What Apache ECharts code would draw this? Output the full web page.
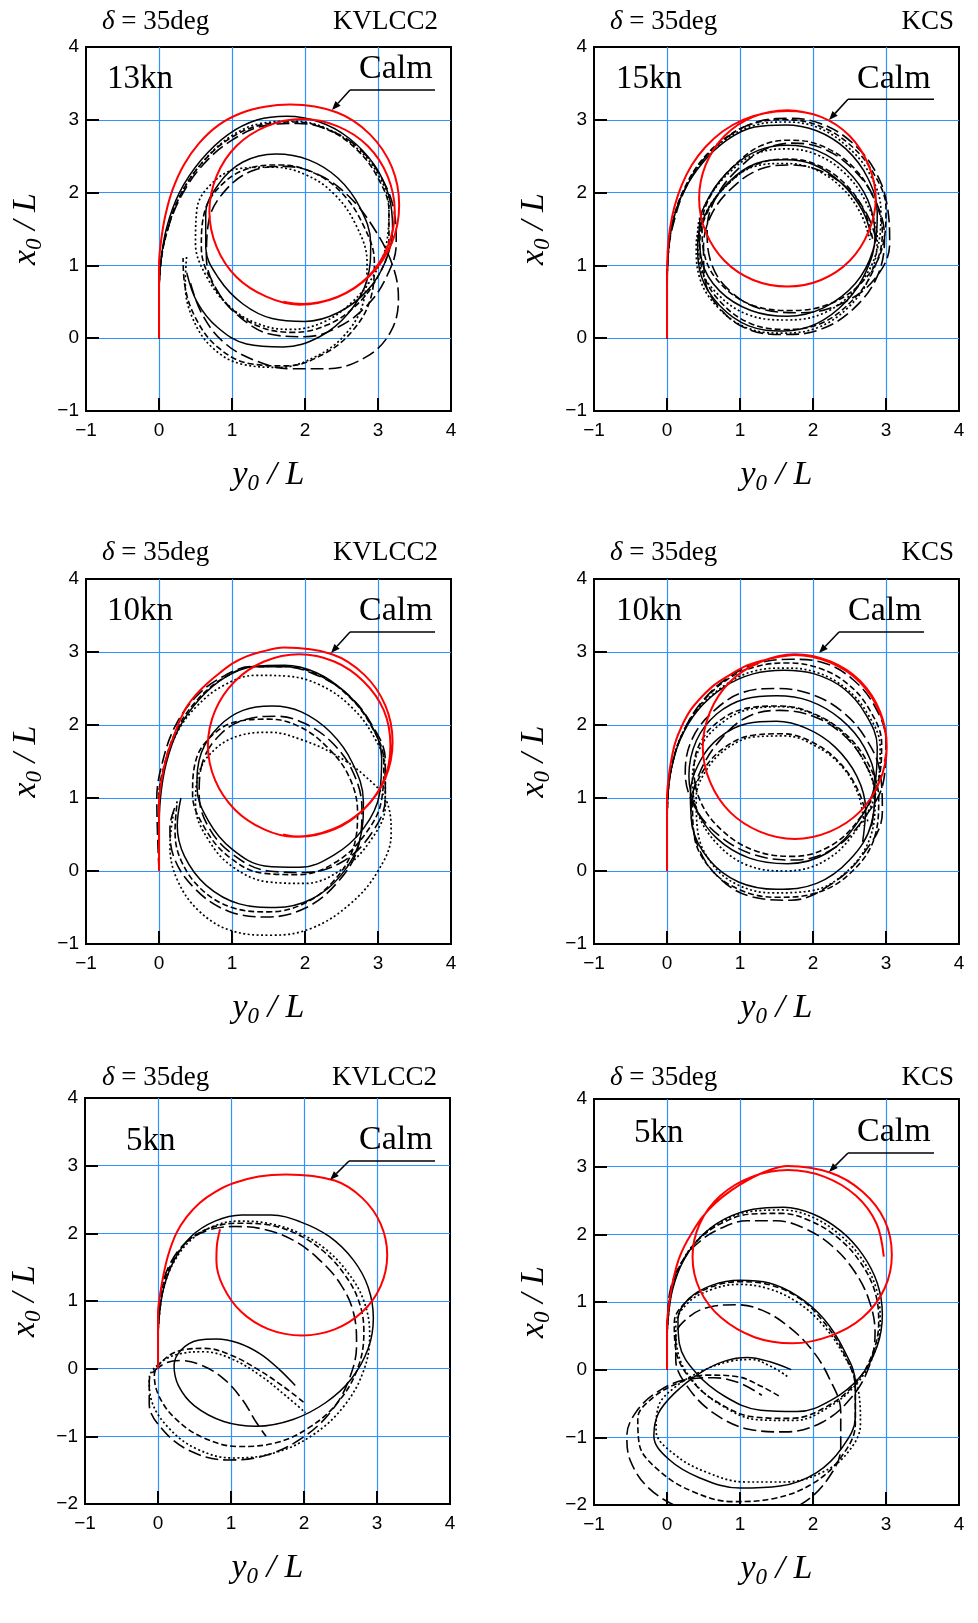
<!DOCTYPE html>
<html><head><meta charset="utf-8">
<script src="https://cdn.jsdelivr.net/npm/echarts@6/dist/echarts.min.js"></script>
<style>html,body{margin:0;padding:0;background:#fff}#c{width:978px;height:1623px}</style>
</head><body><div id="c"></div>
<script>
// ---------- tick values ----------
const xTicks = [-1, 0, 1, 2, 3, 4];
const yTicksTop = [-1, 0, 1, 2, 3, 4];
const yTicksBottom = [-2, -1, 0, 1, 2, 3, 4];
const shipNames = ['KVLCC2', 'KCS', 'KVLCC2', 'KCS', 'KVLCC2', 'KCS'];
const speeds = ['13kn', '15kn', '10kn', '10kn', '5kn', '5kn'];
const rudderTitle = '35deg';

// ---------- data: [y0/L, x0/L] ----------
// Panel 1 KVLCC2 13kn
const p1Calm = [[0,0],[0,0.5],[0,1.0],[0.03,1.35],[0.09,1.7],[0.19,2.05],[0.34,2.38],[0.55,2.68],[0.82,2.93],[1.12,3.09],[1.45,3.18],[1.8,3.21],[2.44,3.1],[2.89,2.8],[3.19,2.35],[3.29,1.83],[3.19,1.31],[2.89,0.86],[2.44,0.56],[1.92,0.46],[1.47,0.57],[1.06,0.84],[0.79,1.25],[0.69,1.74],[0.79,2.23],[1.06,2.64],[1.47,2.91],[1.96,3.01],[2.45,2.91],[2.86,2.64],[3.13,2.23],[3.23,1.74],[3.13,1.25],[2.86,0.84],[2.45,0.57],[1.96,0.47],[1.7,0.5]];
const p1Solid = [[0,0],[0,0.5],[0.02,1.0],[0.1,1.5],[0.28,2.0],[0.58,2.45],[0.95,2.8],[1.35,3.0],[1.75,3.05],[2.2,2.97],[2.6,2.75],[2.95,2.38],[3.15,1.95],[3.2,1.5],[3.1,1.05],[2.85,0.65],[2.45,0.35],[2.0,0.23],[1.55,0.27],[1.15,0.47],[0.82,0.82],[0.64,1.25],[0.64,1.7],[0.82,2.12],[1.15,2.42],[1.6,2.53],[2.05,2.45],[2.45,2.2],[2.75,1.8],[2.9,1.3],[2.85,0.8],[2.6,0.35],[2.2,0.02],[1.7,-0.12],[1.2,-0.08],[0.8,0.15],[0.52,0.5],[0.38,0.9]];
const p1Dash = [[0,0],[0,0.5],[0.02,1.0],[0.12,1.5],[0.3,1.98],[0.6,2.42],[0.98,2.75],[1.4,2.93],[1.85,2.97],[2.3,2.87],[2.7,2.6],[3.0,2.2],[3.15,1.75],[3.15,1.3],[3.0,0.85],[2.7,0.45],[2.3,0.18],[1.85,0.08],[1.4,0.15],[1.0,0.4],[0.72,0.78],[0.58,1.25],[0.62,1.72],[0.85,2.1],[1.22,2.33],[1.65,2.38],[2.1,2.28],[2.5,2.0],[2.8,1.55],[2.95,1.05],[2.9,0.55],[2.65,0.1],[2.25,-0.22],[1.75,-0.38],[1.25,-0.35],[0.8,-0.12],[0.5,0.28],[0.35,0.75],[0.33,1.1]];
const p1Long = [[0,0],[0,0.5],[0.02,1.0],[0.12,1.5],[0.32,1.98],[0.62,2.4],[1.0,2.72],[1.45,2.92],[1.9,2.95],[2.35,2.85],[2.75,2.6],[3.05,2.2],[3.22,1.75],[3.25,1.3],[3.12,0.85],[2.85,0.45],[2.45,0.15],[2.0,0.02],[1.55,0.05],[1.12,0.28],[0.8,0.65],[0.65,1.1],[0.68,1.6],[0.9,2.02],[1.28,2.3],[1.72,2.36],[2.18,2.25],[2.6,1.95],[2.95,1.5],[3.2,1.0],[3.28,0.55],[3.18,0.1],[2.85,-0.25],[2.3,-0.42],[1.8,-0.42],[1.3,-0.3],[0.88,-0.05],[0.58,0.35],[0.42,0.8]];
const p1Dot = [[0,0],[0,0.5],[0.02,1.0],[0.12,1.5],[0.3,1.98],[0.6,2.42],[0.98,2.77],[1.4,2.95],[1.85,2.98],[2.3,2.88],[2.7,2.62],[3.0,2.25],[3.15,1.8],[3.12,1.32],[2.95,0.88],[2.65,0.5],[2.25,0.22],[1.8,0.12],[1.35,0.2],[0.95,0.45],[0.65,0.85],[0.5,1.3],[0.52,1.78],[0.75,2.15],[1.1,2.33],[1.55,2.35],[2.0,2.25],[2.4,1.98],[2.7,1.55],[2.85,1.05],[2.8,0.5],[2.55,0.05],[2.15,-0.25],[1.65,-0.4],[1.15,-0.36],[0.72,-0.12],[0.45,0.3],[0.36,0.75],[0.38,1.15]];

// Panel 2 KCS 15kn
const p2Calm = [[0,0],[0,0.6],[0.01,1.2],[0.04,1.5],[0.1,1.8],[0.2,2.1],[0.34,2.38],[0.52,2.62],[0.76,2.84],[1.04,3.0],[1.34,3.09],[1.65,3.12],[2.11,3.04],[2.5,2.78],[2.76,2.38],[2.86,1.92],[2.76,1.46],[2.5,1.06],[2.11,0.8],[1.65,0.71],[1.18,0.8],[0.79,1.06],[0.53,1.46],[0.44,1.92],[0.53,2.38],[0.79,2.78],[1.18,3.04],[1.65,3.13],[1.9,3.1]];
const p2Solid = [[0,0],[0,0.6],[0.02,1.2],[0.08,1.6],[0.22,2.0],[0.48,2.4],[0.82,2.72],[1.2,2.9],[1.62,2.93],[2.05,2.85],[2.45,2.6],[2.75,2.2],[2.88,1.72],[2.82,1.2],[2.58,0.75],[2.15,0.42],[1.65,0.3],[1.15,0.38],[0.72,0.65],[0.48,1.05],[0.44,1.5],[0.58,1.95],[0.9,2.35],[1.25,2.58],[1.65,2.65],[2.05,2.58],[2.45,2.32],[2.75,1.9],[2.85,1.4],[2.72,0.9],[2.45,0.5],[2.05,0.2],[1.6,0.1],[1.12,0.17],[0.72,0.45],[0.47,0.85],[0.42,1.3],[0.55,1.75],[0.85,2.15],[1.22,2.4],[1.62,2.45],[2.02,2.38],[2.4,2.12],[2.68,1.75],[2.8,1.4]];
const p2Dash = [[0,0],[0,0.6],[0.02,1.2],[0.08,1.6],[0.22,2.02],[0.48,2.45],[0.84,2.78],[1.22,2.96],[1.62,3.0],[2.05,2.93],[2.48,2.68],[2.82,2.28],[3.0,1.78],[2.95,1.25],[2.7,0.8],[2.25,0.48],[1.7,0.38],[1.18,0.45],[0.76,0.72],[0.52,1.12],[0.48,1.55],[0.62,2.0],[0.95,2.4],[1.3,2.65],[1.68,2.72],[2.1,2.65],[2.52,2.38],[2.82,1.95],[2.95,1.45],[2.82,0.92],[2.52,0.5],[2.1,0.2],[1.62,0.12],[1.15,0.2],[0.75,0.48],[0.5,0.88],[0.45,1.33],[0.58,1.78],[0.9,2.18],[1.26,2.4],[1.66,2.46],[2.06,2.38],[2.44,2.12],[2.7,1.75],[2.82,1.35]];
const p2Long = [[0,0],[0,0.6],[0.02,1.2],[0.1,1.62],[0.25,2.05],[0.52,2.48],[0.88,2.8],[1.26,2.98],[1.66,3.02],[2.1,2.95],[2.52,2.7],[2.85,2.3],[3.02,1.8],[3.05,1.3],[2.85,0.82],[2.4,0.48],[1.85,0.35],[1.3,0.4],[0.85,0.66],[0.6,1.05],[0.55,1.5],[0.68,1.95],[1.0,2.35],[1.35,2.6],[1.72,2.68],[2.15,2.6],[2.55,2.32],[2.85,1.9],[2.98,1.38],[2.88,0.85],[2.55,0.4],[2.1,0.12],[1.6,0.05],[1.12,0.12],[0.75,0.38],[0.52,0.8],[0.5,1.25],[0.62,1.72],[0.93,2.1],[1.3,2.33],[1.7,2.38],[2.1,2.3],[2.48,2.05],[2.75,1.68],[2.88,1.3]];
const p2Dot = [[0,0],[0,0.6],[0.02,1.2],[0.08,1.6],[0.22,2.0],[0.47,2.42],[0.83,2.75],[1.22,2.93],[1.62,2.97],[2.05,2.9],[2.45,2.65],[2.78,2.25],[2.93,1.75],[2.88,1.22],[2.62,0.72],[2.18,0.36],[1.65,0.25],[1.12,0.32],[0.7,0.6],[0.45,1.0],[0.42,1.45],[0.56,1.9],[0.88,2.3],[1.24,2.54],[1.63,2.6],[2.03,2.53],[2.42,2.28],[2.72,1.88],[2.88,1.38],[2.78,0.85],[2.48,0.42],[2.05,0.14],[1.58,0.07],[1.1,0.14],[0.7,0.42],[0.45,0.82],[0.4,1.27],[0.53,1.72],[0.84,2.12],[1.2,2.36],[1.6,2.4],[2.0,2.33],[2.38,2.08],[2.65,1.72],[2.78,1.35]];

// Panel 3 KVLCC2 10kn
const p3Calm = [[0,0],[0,0.5],[0,0.92],[0.02,1.15],[0.06,1.38],[0.12,1.62],[0.2,1.84],[0.28,2.05],[0.38,2.25],[0.51,2.42],[0.66,2.57],[0.84,2.72],[1.02,2.85],[1.2,2.94],[1.39,3.0],[1.71,3.06],[2.37,2.97],[2.81,2.69],[3.1,2.27],[3.2,1.77],[3.1,1.27],[2.81,0.85],[2.37,0.57],[1.85,0.47],[1.44,0.57],[1.04,0.84],[0.77,1.24],[0.67,1.72],[0.77,2.2],[1.04,2.6],[1.44,2.87],[1.92,2.97],[2.4,2.87],[2.8,2.6],[3.08,2.2],[3.17,1.72],[3.08,1.24],[2.8,0.84],[2.4,0.57],[1.92,0.47],[1.7,0.5]];
const p3Solid = [[0,0],[0,0.5],[0.02,1.0],[0.1,1.48],[0.27,1.95],[0.55,2.35],[0.9,2.65],[1.3,2.8],[1.72,2.82],[2.15,2.72],[2.55,2.45],[2.88,2.05],[3.05,1.55],[3.02,1.05],[2.8,0.58],[2.4,0.22],[1.92,0.05],[1.45,0.07],[1.0,0.3],[0.68,0.68],[0.52,1.15],[0.58,1.62],[0.82,1.98],[1.15,2.2],[1.55,2.26],[1.95,2.18],[2.35,1.9],[2.65,1.48],[2.8,0.95],[2.75,0.42],[2.5,-0.05],[2.1,-0.38],[1.6,-0.5],[1.1,-0.45],[0.65,-0.2],[0.35,0.2],[0.25,0.62],[0.3,1.0]];
const p3Dash = [[0,0],[0,0.5],[0,1.0],[0.08,1.48],[0.25,1.95],[0.53,2.35],[0.88,2.64],[1.3,2.8],[1.72,2.8],[2.15,2.7],[2.57,2.42],[2.9,2.0],[3.08,1.5],[3.05,0.98],[2.82,0.5],[2.42,0.12],[1.92,-0.05],[1.42,-0.03],[0.95,0.2],[0.62,0.6],[0.46,1.05],[0.5,1.5],[0.72,1.85],[1.08,2.05],[1.5,2.08],[1.92,1.98],[2.3,1.7],[2.6,1.3],[2.72,0.8],[2.65,0.28],[2.38,-0.15],[1.98,-0.45],[1.5,-0.56],[1.0,-0.5],[0.58,-0.25],[0.3,0.15],[0.22,0.55],[0.25,0.95]];
const p3Long = [[0,0],[-0.02,0.5],[-0.03,1.0],[0.05,1.5],[0.22,1.98],[0.5,2.38],[0.87,2.66],[1.28,2.8],[1.7,2.8],[2.12,2.7],[2.55,2.45],[2.9,2.03],[3.1,1.52],[3.1,1.0],[2.9,0.5],[2.5,0.12],[2.0,-0.02],[1.5,0.0],[1.02,0.22],[0.68,0.6],[0.55,1.05],[0.6,1.5],[0.85,1.88],[1.2,2.08],[1.6,2.12],[2.0,2.02],[2.38,1.75],[2.66,1.35],[2.78,0.85],[2.72,0.3],[2.45,-0.15],[2.02,-0.5],[1.48,-0.63],[0.95,-0.55],[0.5,-0.25],[0.2,0.2],[0.15,0.6],[0.25,0.95]];
const p3Dot = [[0,0],[0,0.5],[0,1.0],[0.08,1.45],[0.25,1.9],[0.53,2.27],[0.9,2.55],[1.32,2.68],[1.75,2.67],[2.2,2.55],[2.6,2.28],[2.92,1.88],[3.1,1.4],[3.1,0.9],[2.9,0.42],[2.5,0.02],[2.0,-0.17],[1.5,-0.15],[1.02,0.05],[0.68,0.42],[0.5,0.9],[0.55,1.35],[0.78,1.68],[1.12,1.86],[1.52,1.9],[1.95,1.8],[2.4,1.6],[2.8,1.32],[3.12,0.95],[3.18,0.5],[3.0,0.0],[2.62,-0.45],[2.1,-0.78],[1.55,-0.88],[1.0,-0.82],[0.55,-0.55],[0.25,-0.12],[0.15,0.35],[0.2,0.8]];

// Panel 4 KCS 10kn
const p4Calm = [[0,0],[0,0.6],[0,1.0],[0.02,1.25],[0.05,1.47],[0.11,1.75],[0.2,1.98],[0.32,2.2],[0.48,2.39],[0.65,2.55],[0.85,2.68],[1.06,2.8],[1.3,2.88],[1.52,2.93],[1.74,2.96],[2.23,2.86],[2.64,2.59],[2.91,2.18],[3.01,1.7],[2.91,1.22],[2.64,0.81],[2.23,0.54],[1.75,0.44],[1.27,0.54],[0.86,0.81],[0.59,1.22],[0.49,1.7],[0.59,2.18],[0.86,2.59],[1.27,2.86],[1.75,2.97],[2.24,2.87],[2.65,2.6],[2.92,2.18],[3.01,1.7],[2.98,1.5]];
const p4Solid = [[0,0],[0,0.5],[0.01,1.0],[0.06,1.4],[0.18,1.8],[0.42,2.2],[0.78,2.52],[1.18,2.7],[1.6,2.75],[2.02,2.7],[2.42,2.5],[2.72,2.15],[2.88,1.7],[2.85,1.2],[2.62,0.68],[2.2,0.25],[1.65,0.1],[1.12,0.18],[0.68,0.45],[0.4,0.85],[0.3,1.3],[0.4,1.78],[0.68,2.15],[1.08,2.36],[1.5,2.4],[1.95,2.33],[2.38,2.08],[2.7,1.7],[2.85,1.2],[2.8,0.65],[2.5,0.15],[2.05,-0.17],[1.5,-0.25],[0.98,-0.15],[0.58,0.15],[0.35,0.6],[0.32,1.05],[0.45,1.5],[0.72,1.83],[1.1,2.02],[1.5,2.05],[1.92,1.95],[2.3,1.7],[2.6,1.3],[2.72,0.85],[2.68,0.4]];
const p4Dash = [[0,0],[0,0.5],[0.01,1.0],[0.06,1.42],[0.2,1.85],[0.45,2.27],[0.82,2.62],[1.22,2.8],[1.65,2.85],[2.08,2.78],[2.48,2.56],[2.78,2.2],[2.94,1.75],[2.9,1.25],[2.66,0.75],[2.25,0.35],[1.72,0.2],[1.2,0.28],[0.76,0.55],[0.46,0.95],[0.37,1.4],[0.48,1.8],[0.78,2.1],[1.15,2.24],[1.56,2.26],[2.0,2.16],[2.42,1.9],[2.74,1.5],[2.9,1.0],[2.84,0.45],[2.52,-0.02],[2.05,-0.3],[1.5,-0.36],[0.98,-0.25],[0.58,0.05],[0.37,0.5],[0.35,0.95],[0.5,1.38],[0.8,1.7],[1.18,1.86],[1.58,1.88],[1.98,1.77],[2.35,1.5],[2.62,1.1],[2.75,0.68]];
const p4Long = [[0,0],[0,0.5],[0.01,1.0],[0.07,1.45],[0.22,1.9],[0.48,2.32],[0.85,2.66],[1.27,2.85],[1.7,2.9],[2.15,2.85],[2.55,2.62],[2.85,2.25],[3.0,1.78],[2.97,1.25],[2.72,0.75],[2.3,0.32],[1.75,0.15],[1.2,0.22],[0.72,0.48],[0.38,0.88],[0.25,1.35],[0.35,1.82],[0.65,2.2],[1.05,2.45],[1.5,2.5],[1.95,2.43],[2.38,2.2],[2.72,1.82],[2.92,1.35],[2.95,0.8],[2.7,0.25],[2.25,-0.18],[1.7,-0.4],[1.15,-0.35],[0.7,-0.08],[0.42,0.35],[0.33,0.85],[0.45,1.35],[0.75,1.82],[1.12,2.12],[1.55,2.2],[2.0,2.12],[2.4,1.88],[2.7,1.5],[2.85,1.05],[2.8,0.6]];
const p4Dot = [[0,0],[0,0.5],[0.01,1.0],[0.06,1.4],[0.18,1.82],[0.43,2.22],[0.8,2.55],[1.2,2.74],[1.62,2.78],[2.05,2.72],[2.45,2.5],[2.75,2.15],[2.92,1.7],[2.88,1.15],[2.62,0.6],[2.18,0.15],[1.62,0.0],[1.1,0.08],[0.68,0.38],[0.42,0.8],[0.35,1.28],[0.47,1.72],[0.78,2.05],[1.15,2.22],[1.56,2.25],[2.0,2.15],[2.4,1.9],[2.7,1.5],[2.85,1.0],[2.78,0.45],[2.45,-0.02],[1.98,-0.27],[1.45,-0.3],[0.95,-0.18],[0.6,0.12],[0.42,0.55],[0.4,1.0],[0.55,1.4],[0.85,1.7],[1.22,1.84],[1.62,1.85],[2.02,1.72],[2.38,1.45],[2.62,1.05],[2.7,0.62]];

// Panel 5 KVLCC2 5kn
const p5Calm = [[0,0],[0,0.4],[0,0.82],[0.03,1.1],[0.07,1.36],[0.14,1.68],[0.25,2.0],[0.39,2.24],[0.57,2.45],[0.78,2.61],[1.03,2.74],[1.38,2.84],[1.76,2.87],[2.42,2.78],[2.8,2.52],[3.05,2.14],[3.14,1.68],[3.05,1.22],[2.8,0.84],[2.42,0.58],[1.97,0.49],[1.52,0.58],[1.14,0.84],[0.89,1.22],[0.8,1.6],[0.81,1.85],[0.85,2.06]];
const p5Solid = [[0,0],[0,0.4],[0.02,0.8],[0.08,1.2],[0.22,1.6],[0.45,1.95],[0.78,2.18],[1.15,2.27],[1.55,2.27],[1.95,2.17],[2.35,1.95],[2.68,1.6],[2.88,1.2],[2.95,0.75],[2.88,0.3],[2.65,-0.15],[2.3,-0.5],[1.85,-0.75],[1.35,-0.85],[0.9,-0.78],[0.5,-0.55],[0.28,-0.25],[0.22,0.05],[0.32,0.28],[0.55,0.42],[0.8,0.44],[1.1,0.38],[1.4,0.22],[1.65,0.0],[1.88,-0.25]];
const p5Dash = [[0,0],[0,0.4],[0.01,0.8],[0.06,1.2],[0.2,1.58],[0.42,1.9],[0.72,2.08],[1.08,2.15],[1.48,2.13],[1.88,2.0],[2.25,1.75],[2.55,1.4],[2.75,1.0],[2.82,0.55],[2.75,0.05],[2.5,-0.45],[2.1,-0.85],[1.6,-1.1],[1.1,-1.15],[0.62,-1.02],[0.25,-0.75],[0.02,-0.42],[-0.05,-0.1],[0.1,0.15],[0.35,0.28],[0.65,0.3],[1.0,0.2],[1.35,0.0],[1.7,-0.25],[2.0,-0.5]];
const p5Long = [[0,0],[0,0.4],[0.01,0.8],[0.05,1.2],[0.18,1.58],[0.4,1.88],[0.7,2.05],[1.05,2.1],[1.45,2.06],[1.85,1.9],[2.2,1.62],[2.5,1.25],[2.68,0.82],[2.72,0.35],[2.62,-0.15],[2.38,-0.62],[1.98,-1.02],[1.48,-1.28],[0.95,-1.35],[0.45,-1.22],[0.08,-0.92],[-0.12,-0.52],[-0.12,-0.18],[0.05,0.05],[0.3,0.12],[0.6,0.05],[0.9,-0.15],[1.15,-0.45],[1.35,-0.8],[1.48,-1.0]];
const p5Dot = [[0,0],[0,0.4],[0.02,0.8],[0.08,1.2],[0.22,1.58],[0.45,1.9],[0.75,2.1],[1.1,2.18],[1.5,2.15],[1.9,2.02],[2.28,1.78],[2.6,1.42],[2.82,1.0],[2.9,0.5],[2.82,-0.02],[2.55,-0.55],[2.12,-0.98],[1.58,-1.25],[1.02,-1.32],[0.52,-1.18],[0.15,-0.88],[-0.08,-0.5],[-0.12,-0.15],[0.05,0.1],[0.3,0.22],[0.62,0.25],[1.0,0.15],[1.4,-0.1],[1.75,-0.4],[2.02,-0.65]];

// Panel 6 KCS 5kn
const p6Calm = [[0,0],[0,0.64],[0.02,0.9],[0.05,1.13],[0.1,1.4],[0.16,1.63],[0.24,1.83],[0.34,2.02],[0.48,2.25],[0.66,2.46],[0.88,2.65],[1.12,2.81],[1.38,2.94],[1.65,3.01],[2.24,2.91],[2.68,2.63],[2.98,2.21],[3.08,1.7],[2.98,1.2],[2.68,0.77],[2.24,0.5],[1.72,0.39],[1.2,0.48],[0.74,0.77],[0.45,1.18],[0.35,1.67],[0.45,2.16],[0.73,2.57],[1.16,2.85],[1.66,2.95],[2.16,2.85],[2.59,2.57],[2.87,2.16],[2.97,1.67]];
const p6Solid = [[0,0],[0,0.4],[0.02,0.8],[0.08,1.2],[0.22,1.6],[0.45,1.95],[0.78,2.22],[1.18,2.37],[1.6,2.4],[2.0,2.3],[2.38,2.05],[2.68,1.7],[2.88,1.28],[2.95,0.82],[2.88,0.35],[2.65,-0.1],[2.25,-0.45],[1.78,-0.62],[1.28,-0.6],[0.8,-0.4],[0.4,-0.05],[0.17,0.38],[0.15,0.75],[0.3,1.05],[0.62,1.25],[1.0,1.32],[1.4,1.28],[1.8,1.08],[2.15,0.75],[2.42,0.3],[2.58,-0.2],[2.58,-0.7],[2.4,-1.15],[2.05,-1.52],[1.55,-1.72],[1.0,-1.75],[0.45,-1.6],[0.02,-1.32],[-0.18,-0.98],[-0.12,-0.65],[0.1,-0.35],[0.45,-0.05],[0.8,0.13],[1.1,0.18],[1.4,0.12],[1.7,0.0]];
const p6Dash = [[0,0],[0,0.4],[0.01,0.8],[0.06,1.2],[0.2,1.58],[0.43,1.92],[0.76,2.17],[1.15,2.3],[1.56,2.31],[1.96,2.2],[2.34,1.95],[2.64,1.6],[2.84,1.18],[2.9,0.72],[2.82,0.25],[2.58,-0.2],[2.18,-0.55],[1.7,-0.72],[1.2,-0.7],[0.72,-0.5],[0.33,-0.15],[0.12,0.3],[0.1,0.7],[0.28,1.02],[0.6,1.22],[1.0,1.3],[1.42,1.25],[1.82,1.05],[2.15,0.7],[2.42,0.25],[2.58,-0.28],[2.58,-0.8],[2.38,-1.3],[2.0,-1.68],[1.48,-1.9],[0.9,-1.95],[0.35,-1.8],[-0.1,-1.5],[-0.38,-1.1],[-0.4,-0.72],[-0.2,-0.42],[0.15,-0.2],[0.55,-0.08],[0.95,-0.1],[1.3,-0.25],[1.55,-0.4]];
const p6Long = [[0,0],[0,0.4],[0.01,0.8],[0.05,1.2],[0.18,1.55],[0.4,1.85],[0.72,2.08],[1.1,2.2],[1.5,2.2],[1.9,2.08],[2.27,1.82],[2.57,1.45],[2.77,1.02],[2.85,0.55],[2.77,0.05],[2.52,-0.42],[2.12,-0.78],[1.62,-0.92],[1.12,-0.88],[0.65,-0.65],[0.3,-0.28],[0.12,0.15],[0.12,0.5],[0.3,0.78],[0.6,0.93],[0.95,0.96],[1.3,0.88],[1.65,0.65],[1.98,0.3],[2.22,-0.12],[2.38,-0.62],[2.38,-1.15],[2.2,-1.62],[1.85,-1.98],[1.35,-2.2],[0.75,-2.22],[0.2,-2.05],[-0.25,-1.75],[-0.5,-1.35],[-0.55,-0.98],[-0.42,-0.62],[-0.12,-0.32],[0.25,-0.15],[0.65,-0.12],[1.0,-0.2],[1.3,-0.38]];
const p6Dot = [[0,0],[0,0.4],[0.02,0.8],[0.07,1.2],[0.21,1.6],[0.44,1.94],[0.77,2.2],[1.16,2.34],[1.58,2.36],[1.98,2.26],[2.36,2.0],[2.66,1.65],[2.86,1.22],[2.92,0.76],[2.85,0.28],[2.62,-0.18],[2.22,-0.55],[1.75,-0.75],[1.25,-0.74],[0.78,-0.55],[0.38,-0.2],[0.15,0.25],[0.12,0.65],[0.28,0.98],[0.6,1.18],[0.98,1.26],[1.38,1.2],[1.78,1.0],[2.12,0.68],[2.42,0.22],[2.62,-0.3],[2.65,-0.8],[2.48,-1.22],[2.12,-1.52],[1.62,-1.66],[1.08,-1.66],[0.55,-1.52],[0.1,-1.25],[-0.15,-0.9],[-0.12,-0.55],[0.12,-0.25],[0.48,-0.02],[0.85,0.12],[1.15,0.15],[1.42,0.05],[1.65,-0.1]];

const panelData = [
  {calm: p1Calm, solid: p1Solid, dash: p1Dash, long: p1Long, dot: p1Dot, yTicks: yTicksTop},
  {calm: p2Calm, solid: p2Solid, dash: p2Dash, long: p2Long, dot: p2Dot, yTicks: yTicksTop},
  {calm: p3Calm, solid: p3Solid, dash: p3Dash, long: p3Long, dot: p3Dot, yTicks: yTicksTop},
  {calm: p4Calm, solid: p4Solid, dash: p4Dash, long: p4Long, dot: p4Dot, yTicks: yTicksTop},
  {calm: p5Calm, solid: p5Solid, dash: p5Dash, long: p5Long, dot: p5Dot, yTicks: yTicksBottom},
  {calm: p6Calm, solid: p6Solid, dash: p6Dash, long: p6Long, dot: p6Dot, yTicks: yTicksBottom}
];

// ---------- layout (pixels) ----------
const gridRects = [
  {left: 86, top: 47, width: 365, height: 364},
  {left: 594, top: 47, width: 365, height: 364},
  {left: 86, top: 579, width: 365, height: 365},
  {left: 594, top: 579, width: 365, height: 365},
  {left: 85, top: 1098, width: 365, height: 406},
  {left: 594, top: 1099, width: 365, height: 406}
];
const annot = [
  {title: [102, 30.7], ship: [438, 30.7], speed: [107, 90.7], calm: [359, 81], ul: [350, 435, 90], tip: [332, 110]},
  {title: [610, 30.7], ship: [954, 30.7], speed: [616, 91], calm: [857, 90.7], ul: [848, 934, 99.3], tip: [829, 120]},
  {title: [102, 562], ship: [438, 562], speed: [107, 623], calm: [359, 623], ul: [350, 435, 632], tip: [331, 653]},
  {title: [610, 562], ship: [954, 562], speed: [616, 623], calm: [848, 623], ul: [839, 924, 632], tip: [819, 653]},
  {title: [102, 1087], ship: [437, 1087], speed: [126, 1153], calm: [359, 1152], ul: [349, 435, 1161], tip: [330, 1180]},
  {title: [610, 1087], ship: [954, 1087], speed: [634, 1145], calm: [857, 1144], ul: [848, 934, 1153], tip: [829, 1172]}
];

const SERIF = '"Liberation Serif", "Times New Roman", serif';
const SANS = '"Liberation Sans", Arial, sans-serif';
const GRIDBLUE = '#2f92ff';
const minusFmt = v => (v < 0 ? '\u2212' + Math.abs(v) : String(v));

const nameRich = {
  i: {fontFamily: SERIF, fontStyle: 'italic', fontSize: 34, color: '#000', lineHeight: 40},
  s: {fontFamily: SERIF, fontStyle: 'italic', fontSize: 23, color: '#000', lineHeight: 22, verticalAlign: 'bottom'}
};

const grids = [], xAxes = [], yAxes = [], series = [];
const styles = [
  {key: 'long', type: [13, 5], width: 1.6},
  {key: 'dash', type: [6, 3], width: 1.6},
  {key: 'dot', type: [2, 2.5], width: 1.7},
  {key: 'solid', type: 'solid', width: 1.5}
];

panelData.forEach((pd, k) => {
  const r = gridRects[k];
  grids.push({left: r.left, top: r.top, width: r.width, height: r.height, show: true,
    borderColor: '#000', borderWidth: 2, backgroundColor: 'transparent', outerBoundsMode: 'none', containLabel: false});
  const axisCommon = {
    type: 'value', interval: 1,
    axisLine: {show: true, onZero: false, lineStyle: {color: '#000', width: 2}},
    axisTick: {show: true, inside: true, length: 13, lineStyle: {color: '#000', width: 2}},
    splitLine: {show: true, showMinLine: false, showMaxLine: false, lineStyle: {color: GRIDBLUE, width: 1.2}},
    axisLabel: {fontFamily: SANS, fontSize: 19, color: '#000', formatter: minusFmt},
    nameLocation: 'middle',
    nameTextStyle: {rich: nameRich}
  };
  xAxes.push(Object.assign({}, axisCommon, {gridIndex: k, min: xTicks[0], max: xTicks[xTicks.length - 1],
    name: '{i|y}{s|0}{i| / L}', nameGap: 44, axisLabel: Object.assign({}, axisCommon.axisLabel, {margin: 10})}));
  yAxes.push(Object.assign({}, axisCommon, {gridIndex: k, min: pd.yTicks[0], max: pd.yTicks[pd.yTicks.length - 1],
    name: '{i|x}{s|0}{i| / L}', nameGap: 40, nameRotate: 90, axisLabel: Object.assign({}, axisCommon.axisLabel, {margin: 7})}));
  styles.forEach(s => {
    series.push({type: 'line', xAxisIndex: k, yAxisIndex: k, data: pd[s.key], smooth: 0.38,
      showSymbol: false, symbol: 'none', silent: true, clip: true,
      lineStyle: {color: '#000', width: s.width, type: s.type}, z: 3});
  });
  series.push({type: 'line', xAxisIndex: k, yAxisIndex: k, data: pd.calm, smooth: 0.35,
    showSymbol: false, symbol: 'none', silent: true, clip: true,
    lineStyle: {color: '#ff0000', width: 2}, z: 4});
});

function arrowGraphics(x0, y0, x1, y1) {
  const dx = x1 - x0, dy = y1 - y0, L = Math.hypot(dx, dy), ux = dx / L, uy = dy / L, h = 9, w = 3.5;
  const bx = x1 - ux * h, by = y1 - uy * h;
  return [
    {type: 'polyline', shape: {points: [[x0, y0], [bx, by]]}, style: {stroke: '#000', lineWidth: 1.5, fill: null}},
    {type: 'polygon', shape: {points: [[x1, y1], [bx - uy * w, by + ux * w], [bx + uy * w, by - ux * w]]}, style: {fill: '#000'}}
  ];
}

const graphics = [];
annot.forEach((a, k) => {
  graphics.push({type: 'text', x: a.title[0], y: a.title[1] - 9.2, style: {
    text: '{d|\u03b4} = ' + rudderTitle, fontFamily: SERIF, fontSize: 27, fill: '#000',
    textAlign: 'left', textVerticalAlign: 'middle',
    rich: {d: {fontFamily: SERIF, fontStyle: 'italic', fontSize: 27, fill: '#000'}}}});
  graphics.push({type: 'text', x: a.ship[0], y: a.ship[1] - 9.2, style: {
    text: shipNames[k], fontFamily: SERIF, fontSize: 27, fill: '#000', textAlign: 'right', textVerticalAlign: 'middle'}});
  graphics.push({type: 'text', x: a.speed[0], y: a.speed[1] - 11.2, style: {
    text: speeds[k], fontFamily: SERIF, fontSize: 33, fill: '#000', textAlign: 'left', textVerticalAlign: 'middle'}});
  graphics.push({type: 'text', x: a.calm[0], y: a.calm[1] - 11.5, style: {
    text: 'Calm', fontFamily: SERIF, fontSize: 34, fill: '#000', textAlign: 'left', textVerticalAlign: 'middle'}});
  graphics.push({type: 'polyline', shape: {points: [[a.ul[0], a.ul[2]], [a.ul[1], a.ul[2]]]}, style: {stroke: '#000', lineWidth: 1.5, fill: null}});
  arrowGraphics(a.ul[0], a.ul[2], a.tip[0], a.tip[1]).forEach(g => graphics.push(g));
});

const chart = echarts.init(document.getElementById('c'), null, {renderer: 'canvas'});
chart.setOption({
  animation: false,
  backgroundColor: '#fff',
  grid: grids, xAxis: xAxes, yAxis: yAxes, series: series,
  graphic: graphics.map(g => Object.assign({z: 10}, g))
});
</script></body></html>
